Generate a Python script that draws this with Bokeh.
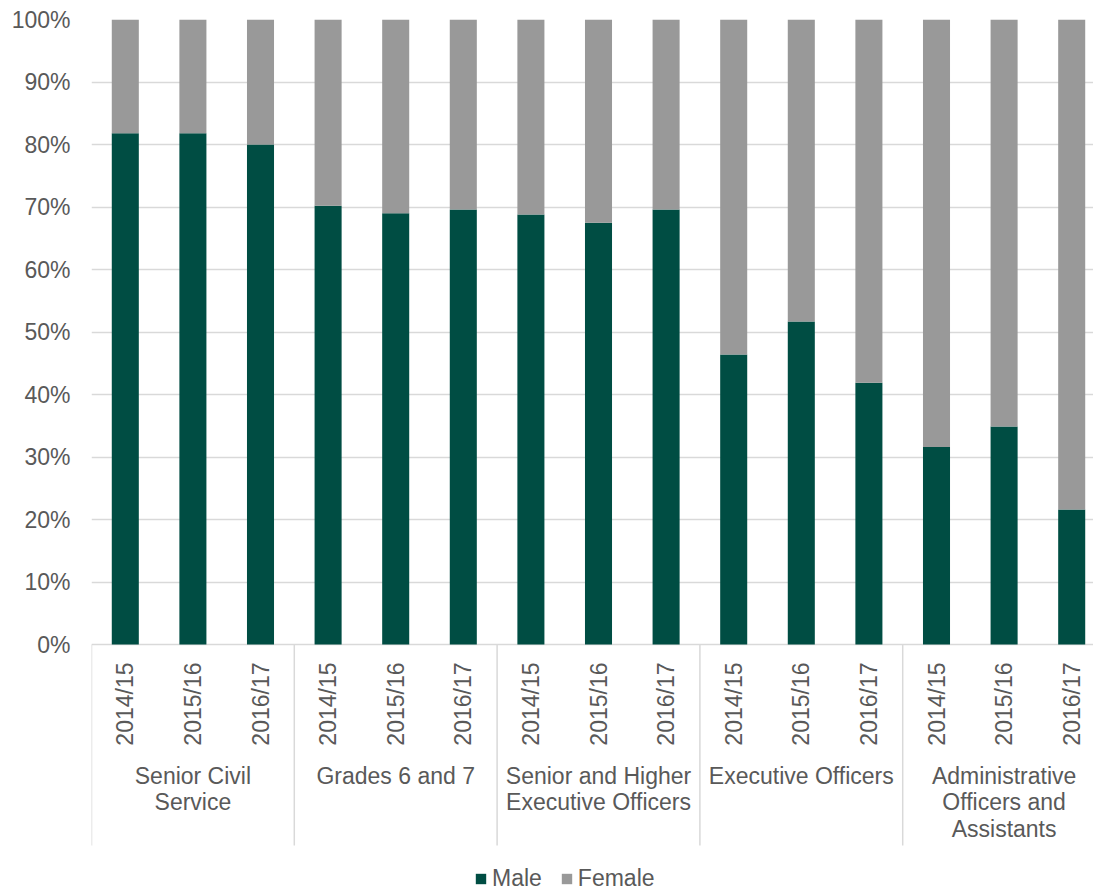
import math
from bokeh.plotting import figure
from bokeh.models import (Range1d, FixedTicker, ColumnDataSource, Legend, LegendItem)
from bokeh.core.properties import value
from bokeh.embed import file_html
from bokeh.resources import INLINE

# ---- data ----
groups = ["Senior Civil\nService", "Grades 6 and 7", "Senior and Higher\nExecutive Officers",
          "Executive Officers", "Administrative\nOfficers and\nAssistants"]
years = ["2014/15", "2015/16", "2016/17"]
male = [81.8, 81.8, 80.0,
        70.2, 69.0, 69.6,
        68.8, 67.5, 69.6,
        46.4, 51.7, 41.9,
        31.6, 34.9, 21.6]
female = [round(100 - m, 1) for m in male]
y_ticks = [0, 10, 20, 30, 40, 50, 60, 70, 80, 90, 100]

MALE_COLOR = "#004D43"
FEMALE_COLOR = "#999999"
TEXT_COLOR = "#595959"
GRID_COLOR = "#D9D9D9"
FONT = "Liberation Sans"
FS = "23px"

n = len(male)
xs = list(range(n))
year_labels = [years[i % 3] for i in range(n)]

# layout (pixels)
W, H = 1093, 892
left, top = 91, 19
px_per_cat = 67.6
frame_w = W - left
frame_h = H - top
px_per_unit = 625 / 100.0
y0_px = 644  # page y of 0%
x_end = -0.5 + frame_w / px_per_cat
y_start = 100 - frame_h / px_per_unit

p = figure(width=W, height=H, frame_width=frame_w, frame_height=frame_h,
           min_border_left=left, min_border_right=0, min_border_top=top, min_border_bottom=0,
           x_range=Range1d(-0.5, x_end), y_range=Range1d(y_start, 100),
           output_backend="svg", toolbar_location=None)
p.outline_line_color = None
p.background_fill_color = "white"
p.border_fill_color = "white"

src = ColumnDataSource(dict(x=xs, male=male, female=female))
rs = p.vbar_stack(["male", "female"], x="x", width=0.4, source=src,
                  fill_color=[MALE_COLOR, FEMALE_COLOR], line_color=None)

# axes
p.xaxis.visible = False
p.xgrid.visible = False
p.yaxis.ticker = FixedTicker(ticks=y_ticks)
p.yaxis.major_label_overrides = {t: f"{t}%" for t in y_ticks}
p.yaxis.axis_line_color = None
p.yaxis.major_tick_line_color = None
p.yaxis.minor_tick_line_color = None
p.yaxis.major_tick_out = 0
p.yaxis.major_label_standoff = 21
p.yaxis.major_label_text_font = FONT
p.yaxis.major_label_text_font_size = FS
p.yaxis.major_label_text_color = TEXT_COLOR
p.ygrid.ticker = FixedTicker(ticks=y_ticks)
p.ygrid.grid_line_color = GRID_COLOR
p.ygrid.grid_line_width = 1.5

# year labels (rotated)
p.text(x=xs, y=[-(662 - y0_px) / px_per_unit] * n, text=year_labels, angle=math.pi / 2,
       text_align="right", text_baseline="middle", text_font=value(FONT),
       text_font_size=FS, text_color=TEXT_COLOR)

# group labels
gx = [g * 3 + 1 for g in range(len(groups))]
p.text(x=gx, y=[-(762 - y0_px) / px_per_unit] * len(groups), text=groups,
       text_align="center", text_baseline="top", text_font=value(FONT),
       text_font_size=FS, text_color=TEXT_COLOR, text_line_height=1.03)

# group separators
bx = [g * 3 - 0.5 for g in range(len(groups) + 1)]
p.segment(x0=bx, x1=bx, y0=[0] * len(bx), y1=[-(845 - y0_px) / px_per_unit] * len(bx),
          line_color=GRID_COLOR, line_width=1.5)

legend = Legend(items=[LegendItem(label="Male", renderers=[rs[0]]),
                       LegendItem(label="Female", renderers=[rs[1]])],
                orientation="horizontal", location=(474 - left, 0))
legend.glyph_width = 13
legend.glyph_height = 13
legend.label_standoff = 5
legend.spacing = 18
legend.padding = 0
legend.margin = 0
legend.border_line_color = None
legend.background_fill_alpha = 0
legend.label_text_font = FONT
legend.label_text_font_size = FS
legend.label_text_color = TEXT_COLOR
legend.label_height = 20
p.add_layout(legend)

open("out.html", "w").write(file_html(p, INLINE))
